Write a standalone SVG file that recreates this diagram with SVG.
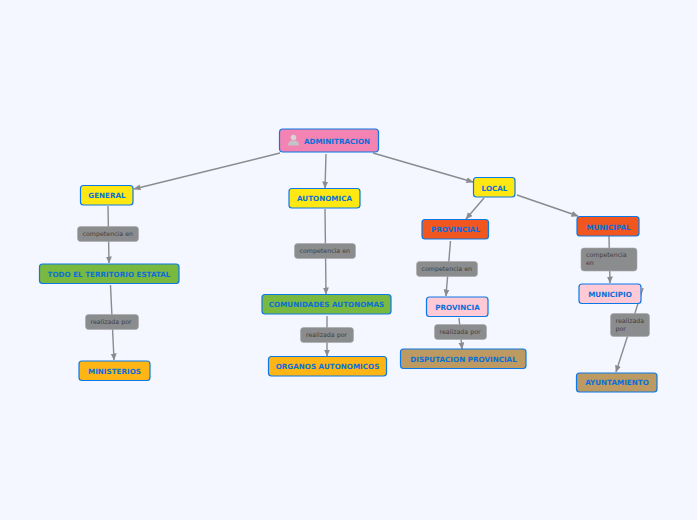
<svg xmlns="http://www.w3.org/2000/svg" width="697" height="520" viewBox="0 0 697 520">
<style>
.n{stroke:#0a78e6;stroke-width:1.2}
.t{font-family:"DejaVu Sans",sans-serif;font-weight:bold;font-size:7.2px;fill:#0a6fd8;text-anchor:middle}
.l{fill:#8b8c8e;stroke:#a9aaac;stroke-width:.6}
.lt{font-family:"DejaVu Sans",sans-serif;font-size:6.3px;fill:#404040}
.c{fill:none;stroke:#8a8b8f;stroke-width:1.4}
</style>
<defs><marker id="a" markerWidth="8" markerHeight="7" refX="6.500" refY="3" orient="auto" markerUnits="userSpaceOnUse"><path d="M0 0L7 3L0 6Z" fill="#8a8b8f"/></marker></defs>
<rect width="697" height="520" fill="#f4f7ff"/>
<g id="connectors">
<path class="c" marker-end="url(#a)" d="M280 153L134 189"/>
<path class="c" marker-end="url(#a)" d="M326 154L325 188"/>
<path class="c" marker-end="url(#a)" d="M373 153L473 182"/>
<path class="c" marker-end="url(#a)" d="M108 206L109 263"/>
<path class="c" marker-end="url(#a)" d="M110.500 285L114 360"/>
<path class="c" marker-end="url(#a)" d="M325 209L326 294"/>
<path class="c" marker-end="url(#a)" d="M327 316L327 356"/>
<path class="c" marker-end="url(#a)" d="M484 198L466 219"/>
<path class="c" marker-end="url(#a)" d="M517 195L578 216"/>
<path class="c" marker-end="url(#a)" d="M450.500 241L446 296"/>
<path class="c" marker-end="url(#a)" d="M459 318L462 349"/>
<path class="c" marker-end="url(#a)" d="M609 236L610 283"/>
<path class="c" marker-end="url(#a)" d="M643 288L616 372"/>
</g>
<g id="l1"><rect class="l" x="77.500" y="226.500" width="61" height="15" rx="3"/><text class="lt" x="82.500" y="236">competencia en</text></g>
<g id="l2"><rect class="l" x="85.500" y="314.500" width="53" height="15" rx="3"/><text class="lt" x="90.500" y="324">realizada por</text></g>
<g id="l3"><rect class="l" x="294.500" y="243.500" width="61" height="15" rx="3"/><text class="lt" x="299.500" y="253">competencia en</text></g>
<g id="l4"><rect class="l" x="300.500" y="327.500" width="53" height="15" rx="3"/><text class="lt" x="306" y="337">realizada por</text></g>
<g id="l5"><rect class="l" x="416.500" y="261.500" width="61" height="15" rx="3"/><text class="lt" x="421.500" y="271">competencia en</text></g>
<g id="l6"><rect class="l" x="434.500" y="324.500" width="52" height="15" rx="3"/><text class="lt" x="439.500" y="334">realizada por</text></g>
<g id="l7"><rect class="l" x="581" y="248" width="56" height="23" rx="3"/><text class="lt" x="586" y="257">competencia</text><text class="lt" x="586" y="265">en</text></g>
<g id="l8"><rect class="l" x="610.500" y="313.500" width="39" height="23" rx="3"/><text class="lt" x="615.500" y="323">realizada</text><text class="lt" x="615.500" y="331">por</text></g>
<g id="administracion"><rect class="n" x="279.500" y="129" width="99" height="23" rx="3.500" fill="#f283b3"/><circle cx="293.500" cy="137.500" r="2.800" fill="#d4d4d6"/><path d="M288 145.500Q288 140.500 293.500 140.500T299 145.500Z" fill="#c4c4c6"/><text class="t" x="337" y="143.500">ADMINITRACION</text></g>
<g id="general"><rect class="n" x="80.500" y="185.500" width="52.500" height="19.500" rx="3" fill="#ffe812"/><text class="t" x="107" y="198">GENERAL</text></g>
<g id="autonomica"><rect class="n" x="289" y="188.500" width="71" height="19.500" rx="3" fill="#ffe812"/><text class="t" x="324.500" y="201">AUTONOMICA</text></g>
<g id="local"><rect class="n" x="473.500" y="177.500" width="41.500" height="19.500" rx="3" fill="#ffe812"/><text class="t" x="494.500" y="190.500">LOCAL</text></g>
<g id="territorio"><rect class="n" x="39.500" y="264" width="139.500" height="19.500" rx="3" fill="#7ab93f"/><text class="t" x="109" y="277">TODO EL TERRITORIO ESTATAL</text></g>
<g id="ministerios"><rect class="n" x="79" y="361" width="71" height="19.500" rx="3" fill="#ffb514"/><text class="t" x="114.500" y="373.500">MINISTERIOS</text></g>
<g id="comunidades"><rect class="n" x="262" y="294.500" width="129" height="19.500" rx="3" fill="#7ab93f"/><text class="t" x="326.500" y="307">COMUNIDADES AUTONOMAS</text></g>
<g id="organos"><rect class="n" x="268.500" y="356.500" width="118" height="19.500" rx="3" fill="#ffb514"/><text class="t" x="327.500" y="369">ORGANOS AUTONOMICOS</text></g>
<g id="provincial"><rect class="n" x="422" y="219.500" width="66.500" height="19.500" rx="3" fill="#f1561f"/><text class="t" x="455.500" y="232">PROVINCIAL</text></g>
<g id="provincia"><rect class="n" x="426.500" y="297" width="61.500" height="19.500" rx="3" fill="#ffc9d6"/><text class="t" x="457.500" y="310">PROVINCIA</text></g>
<g id="disputacion"><rect class="n" x="400.500" y="349" width="125.500" height="19.500" rx="3" fill="#bd9a62"/><text class="t" x="463.500" y="362">DISPUTACION PROVINCIAL</text></g>
<g id="municipal"><rect class="n" x="577" y="216.500" width="62" height="19.500" rx="3" fill="#f1561f"/><text class="t" x="608.500" y="229.500">MUNICIPAL</text></g>
<g id="municipio"><rect class="n" x="579" y="284" width="62" height="19.500" rx="3" fill="#ffc9d6"/><text class="t" x="610" y="297">MUNICIPIO</text></g>
<g id="ayuntamiento"><rect class="n" x="576.500" y="373" width="80.500" height="19" rx="3" fill="#bd9a62"/><text class="t" x="617" y="385">AYUNTAMIENTO</text></g>
</svg>
